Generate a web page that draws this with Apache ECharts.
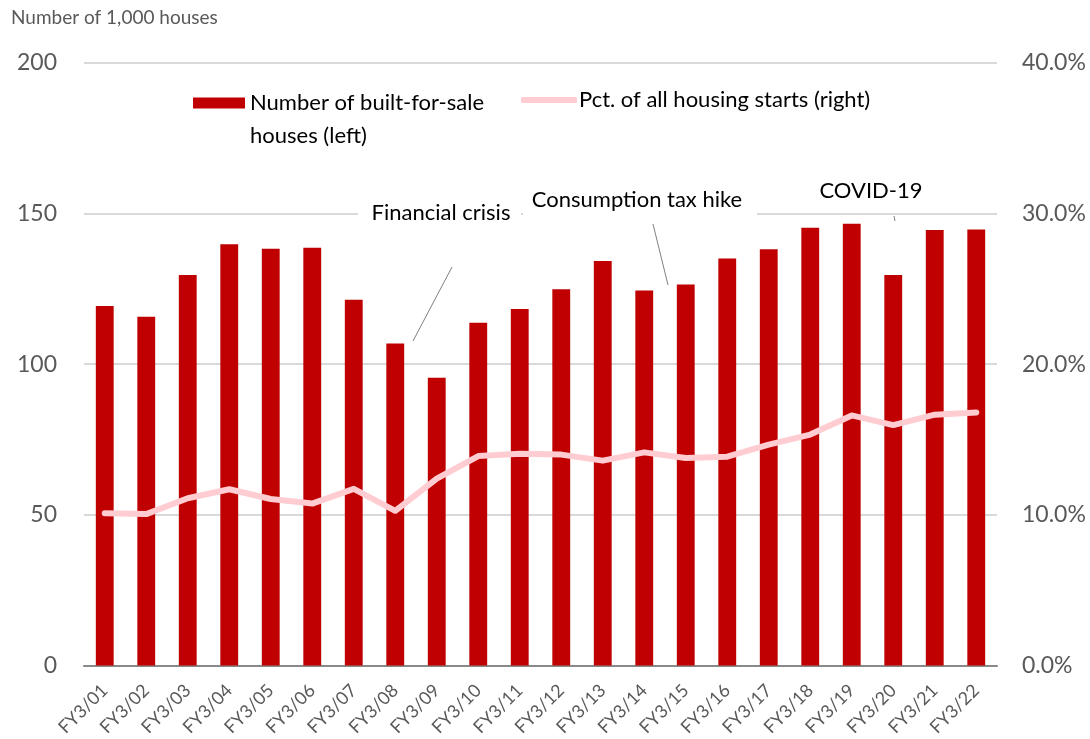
<!DOCTYPE html>
<html>
<head>
<meta charset="utf-8">
<script src="https://cdn.jsdelivr.net/npm/echarts@6/dist/echarts.min.js"></script>
<style>
html,body{margin:0;padding:0;background:#fff;}
#chart{width:1090px;height:739px;}
</style>
</head>
<body>
<div id="chart"></div>
<script>
const categories = ['FY3/01','FY3/02','FY3/03','FY3/04','FY3/05','FY3/06','FY3/07','FY3/08','FY3/09','FY3/10','FY3/11','FY3/12','FY3/13','FY3/14','FY3/15','FY3/16','FY3/17','FY3/18','FY3/19','FY3/20','FY3/21','FY3/22'];
const houses = [119.3,115.8,129.6,139.8,138.3,138.7,121.4,106.9,95.5,113.8,118.3,124.9,134.3,124.5,126.5,135.1,138.2,145.3,146.6,129.6,144.6,144.7];
const pctStarts = [10.1,10.05,11.1,11.7,11.05,10.75,11.73,10.27,12.4,13.9,14.06,14.0,13.6,14.15,13.77,13.86,14.66,15.33,16.6,15.96,16.65,16.8];
const leftTicks = {min:0, max:200, interval:50};
const rightTicks = {min:0, max:40, interval:10};
const seriesNames = ['Number of built-for-sale', 'Pct. of all housing starts (right)'];

const FONT = 'Lato, "Open Sans", sans-serif';
const GREY = '#595959';
const chart = echarts.init(document.getElementById('chart'));
chart.setOption({
  backgroundColor:'#fff',
  animation:false,
  textStyle:{fontFamily:FONT},
  grid:{left:84, right:93, top:63, bottom:72},
  legend:[
    {data:[{name:seriesNames[0], icon:'rect'}], left:193, top:92, padding:0, itemWidth:52, itemHeight:11, itemGap:0,
     selectedMode:false, textStyle:{fontSize:22, color:'#000', fontFamily:FONT}},
    {data:[{name:seriesNames[1], icon:'roundRect'}], left:521, top:89, padding:0, itemWidth:56, itemHeight:6, itemGap:0,
     selectedMode:false, textStyle:{fontSize:22, color:'#000', fontFamily:FONT, padding:[0,0,0,-3]}}
  ],
  xAxis:{type:'category', data:categories,
    axisLine:{lineStyle:{color:'#898989', width:2}},
    axisTick:{show:false},
    axisLabel:{rotate:45, fontSize:18, color:GREY, margin:22, interval:0, fontFamily:FONT}
  },
  yAxis:[
    {type:'value', min:leftTicks.min, max:leftTicks.max, interval:leftTicks.interval,
     axisLabel:{fontSize:23, color:GREY, margin:27, fontFamily:FONT},
     splitLine:{lineStyle:{color:'#d9d9d9', width:2}},
     axisLine:{show:false}, axisTick:{show:false}},
    {type:'value', min:rightTicks.min, max:rightTicks.max, interval:rightTicks.interval,
     axisLabel:{fontSize:23, color:GREY, margin:25, fontFamily:FONT, formatter:v=>v.toFixed(1)+'%'},
     splitLine:{show:false}, axisLine:{show:false}, axisTick:{show:false}}
  ],
  series:[
    {name:seriesNames[0], type:'bar', data:houses, barWidth:'43%', itemStyle:{color:'#C00000'}, z:2},
    {name:seriesNames[1], type:'line', yAxisIndex:1, data:pctStarts, symbol:'none',
     lineStyle:{color:'#FFCCD1', width:6, cap:'round', join:'round'}, itemStyle:{color:'#FFCCD1'}, z:3}
  ],
  graphic:[
    {type:'text', x:11, y:18, style:{text:'Number of 1,000 houses', fontSize:19, fill:GREY, fontFamily:FONT, verticalAlign:'middle'}},
    {type:'text', x:250, y:136, style:{text:'houses (left)', fontSize:22, fill:'#000', fontFamily:FONT, verticalAlign:'middle'}},
    {type:'rect', shape:{x:358, y:200, width:163, height:26}, style:{fill:'#fff'}, z:10},
    {type:'rect', shape:{x:523, y:184, width:234, height:38}, style:{fill:'#fff'}, z:10},
    {type:'text', x:441, y:213, style:{text:'Financial crisis', fontSize:22, fill:'#000', fontFamily:FONT, align:'center', verticalAlign:'middle'}, z:11},
    {type:'text', x:637, y:200, style:{text:'Consumption tax hike', fontSize:22, fill:'#000', fontFamily:FONT, align:'center', verticalAlign:'middle'}, z:11},
    {type:'text', x:871, y:191, style:{text:'COVID-19', fontSize:22, fill:'#000', fontFamily:FONT, align:'center', verticalAlign:'middle'}, z:11},
    {type:'line', shape:{x1:452, y1:267, x2:413, y2:341}, style:{stroke:'#808080', lineWidth:1}, z:11},
    {type:'line', shape:{x1:653, y1:224, x2:668, y2:285}, style:{stroke:'#808080', lineWidth:1}, z:11},
    {type:'line', shape:{x1:894, y1:216, x2:895, y2:221}, style:{stroke:'#808080', lineWidth:1}, z:11}
  ]
});
</script>
</body>
</html>
